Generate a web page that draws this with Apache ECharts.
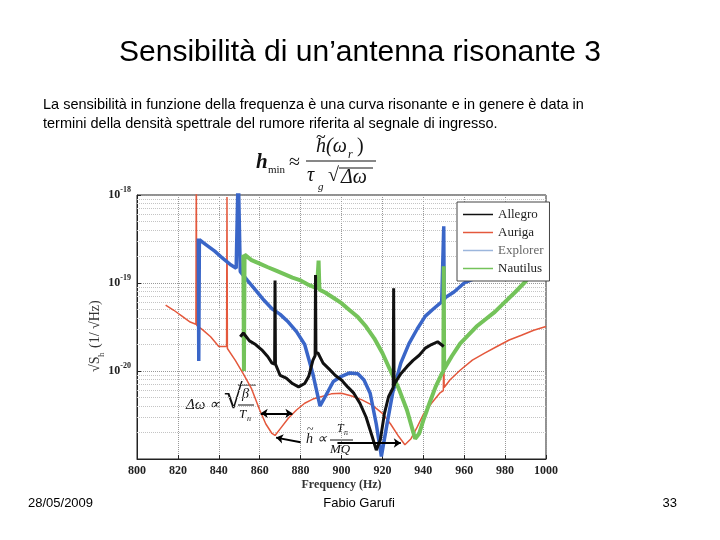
<!DOCTYPE html>
<html><head><meta charset="utf-8">
<script src="https://cdn.jsdelivr.net/npm/echarts@6/dist/echarts.min.js"></script>
<style>html,body{margin:0;padding:0;background:#fff;}#c{width:720px;height:540px;}</style>
</head><body><div id="c"></div>
<script>
// ---- data ----
const xTicks = [800,820,840,860,880,900,920,940,960,980,1000];
const yMinorTicks = [2e-21,3e-21,4e-21,5e-21,6e-21,7e-21,8e-21,9e-21,2e-20,3e-20,4e-20,5e-20,6e-20,7e-20,8e-20,9e-20,2e-19,3e-19,4e-19,5e-19,6e-19,7e-19,8e-19,9e-19];

const allegroF = [850.5,852,855,858,861,864,866,867.3,867.5,867.7,868.5,870,873,876,879,882,884,886,887.1,887.3,887.5,888.5,891,894,897,900,903,906,909,912,915,917,919,921,923,925.3,925.5,925.7,926,929,932,935,938,941,944,947,950];
const allegroV = [2.45e-20,2.7e-20,2.2e-20,2e-20,1.74e-20,1.45e-20,1.23e-20,1.2e-20,1.07e-19,1.2e-20,1.2e-20,8.9e-21,8.3e-21,7.2e-21,6.6e-21,7.2e-21,8.7e-21,1.32e-20,1.5e-20,1.23e-19,1.6e-20,1.6e-20,1.23e-20,1.05e-20,8.9e-21,7.9e-21,6.6e-21,5.6e-21,4.3e-21,3e-21,1.8e-21,1.26e-21,1.66e-21,3.3e-21,5.1e-21,6.5e-21,8.7e-20,6.8e-21,7.2e-21,9.3e-21,1.12e-20,1.32e-20,1.51e-20,1.82e-20,2e-20,2.15e-20,1.9e-20];

const aurigaF = [814,818,822,826,828.8,829,829.2,832,836,840,843.8,844,844.2,848,852,856,860,863,866,867.5,870,874,878,882,886,890,895,900,905,910,915,920,924,928,931,934,937,940,944,948,949.8,950,950.2,953,958,964,970,976,982,988,994,1000];
const aurigaV = [5.6e-20,4.9e-20,4.2e-20,3.6e-20,3.4e-20,2e-18,3.3e-20,2.95e-20,2.45e-20,1.9e-20,1.9e-20,9.5e-19,1.8e-20,1.33e-20,9.3e-21,6.3e-21,3.6e-21,2.5e-21,1.95e-21,1.85e-21,2.2e-21,2.9e-21,3.6e-21,4.3e-21,4.8e-21,5.1e-21,5.5e-21,5.6e-21,5.2e-21,4.7e-21,4.1e-21,3.3e-21,2.5e-21,1.8e-21,1.45e-21,1.7e-21,2.3e-21,3.2e-21,4.3e-21,5.6e-21,6e-21,1.9e-20,6.5e-21,7.9e-21,1.02e-20,1.33e-20,1.6e-20,1.9e-20,2.25e-20,2.55e-20,2.9e-20,3.2e-20];

const explorerF = [830,830.2,830.5,834,838,842,846,848.5,849.5,850.5,854,858,862,866,870,874,878,882,886,889.5,892,896,900,904,908,911,914,917,919.5,922,925,929,933,937,941,945,949,949.8,950,950.2,951,955,960,965,970,980,990,1000];
const explorerV = [3.2e-19,1.3e-20,3.1e-19,2.7e-19,2.3e-19,1.9e-19,1.6e-19,1.47e-19,2e-18,1.35e-19,1.07e-19,8.3e-20,6.4e-20,5.1e-20,4.4e-20,3.6e-20,2.8e-20,2e-20,9.3e-21,4e-21,5.1e-21,7.6e-21,8.7e-21,9.5e-21,9.3e-21,7.9e-21,5.6e-21,2.5e-21,1.07e-21,2.3e-21,5.6e-21,1.23e-20,2.05e-20,3e-20,4.2e-20,5.1e-20,6.1e-20,6.3e-20,4.4e-19,6.5e-20,6.9e-20,7.9e-20,1e-19,1.12e-19,1.23e-19,1.5e-19,1.8e-19,2.1e-19];

const nautilusF = [852,852.3,852.6,856,860,864,868,872,876,880,884,888,888.8,889.2,892,896,900,904,908,912,916,920,924,928,932,936,938,940,943,946,949,949.8,950,950.2,951,954,958,962,966,970,975,980,985,990,995,1000];
const nautilusV = [2.1e-19,1e-20,2.1e-19,1.82e-19,1.66e-19,1.51e-19,1.38e-19,1.26e-19,1.15e-19,1.07e-19,9.5e-20,8.7e-20,1.8e-19,8.4e-20,7.8e-20,6.8e-20,5.9e-20,4.9e-20,4.1e-20,3.2e-20,2.35e-20,1.6e-20,1e-20,6.3e-21,3.6e-21,1.7e-21,1.95e-21,2.75e-21,4.3e-21,6.6e-21,9.3e-21,1e-20,1.55e-19,1.05e-20,1.1e-20,1.48e-20,2.05e-20,2.55e-20,3.2e-20,3.8e-20,4.7e-20,6.1e-20,7.9e-20,1.04e-19,1.47e-19,2.6e-19];

const seriesNames = ['Allegro','Auriga','Explorer','Nautilus'];
const seriesColors = ['#111111','#e4583c','#3a66c8','#74c35a'];

function zip(f, v){ return f.map((x,i)=>[x, v[i]]); }

const chart = echarts.init(document.getElementById('c'), null, {renderer:'canvas'});
const serif = 'Liberation Serif';

function lineSeries(name, f, v, color, width, extra){
  return Object.assign({name, type:'line', data: zip(f,v), showSymbol:false, symbol:'none', clip:true,
    lineStyle:{color, width}, itemStyle:{color}, z:3, animation:false, emphasis:{disabled:true}}, extra||{});
}

const option = {
  animation:false,
  grid:{left:137, right:174, top:195, bottom:81, containLabel:false, outerBoundsMode:'none', show:true, borderColor:'#222', borderWidth:1, backgroundColor:'#fff'},
  xAxis:{type:'value', min:800, max:1000, interval:20,
    name:'Frequency (Hz)', nameLocation:'middle', nameGap:20,
    nameTextStyle:{fontFamily:serif, fontSize:12, fontWeight:'bold', color:'#333'},
    axisLine:{show:true, lineStyle:{color:'#222'}}, axisTick:{inside:true, length:4, lineStyle:{color:'#222'}},
    axisLabel:{fontFamily:serif, fontSize:12, fontWeight:'bold', color:'#222', margin:6, formatter: v => String(v)},
    splitLine:{show:true, lineStyle:{type:'dotted', color:'#999'}}},
  yAxis:{type:'log', logBase:10, min:1e-21, max:1e-18,
    axisLine:{show:true, lineStyle:{color:'#222'}}, axisTick:{inside:true, length:4, lineStyle:{color:'#222'}},
    axisLabel:{fontFamily:serif, fontSize:12, fontWeight:'bold', color:'#222', margin:6,
      formatter: v => '10{e|' + Math.round(Math.log10(v)) + '}',
      rich:{e:{fontFamily:serif, fontSize:8, fontWeight:'bold', color:'#222', padding:[0,0,10,0]}}},
    splitLine:{show:true, lineStyle:{type:'dotted', color:'#999'}}},
  legend:{orient:'vertical', left:457, top:202, padding:[6,6,6,6], z:10,
    backgroundColor:'#fff', borderColor:'#444', borderWidth:1, itemGap:5,
    icon:'rect', itemWidth:30, itemHeight:1.5,
    textStyle:{fontFamily:serif, fontSize:13, color:'#222'},
    data:[{name:'Allegro'},{name:'Auriga'},{name:'Explorer', itemStyle:{color:'#9cb6dc'}, textStyle:{color:'#666'}},{name:'Nautilus'}]},
  series:[
    lineSeries('Auriga', aurigaF, aurigaV, seriesColors[1], 1.5, {
      markLine:{silent:true, z:1, symbol:['none','none'], label:{show:false}, animation:false,
        lineStyle:{type:'dotted', color:'#c4c4c4', width:1},
        data: yMinorTicks.map(y=>[{coord:[800,y]},{coord:[1000,y]}])}}),
    lineSeries('Explorer', explorerF, explorerV, seriesColors[2], 3.5),
    lineSeries('Nautilus', nautilusF, nautilusV, seriesColors[3], 4),
    lineSeries('Allegro', allegroF, allegroV, seriesColors[0], 3, {
      markLine:{silent:true, z:6, animation:false, symbol:['arrow','arrow'], symbolSize:7, label:{show:false},
        lineStyle:{type:'solid', color:'#000', width:2},
        data:[
          [{coord:[860.5,3.3e-21]},{coord:[876,3.3e-21]}],
          [{coord:[880,1.55e-21], symbol:'none'},{coord:[868,1.75e-21]}],
          [{coord:[898,1.52e-21], symbol:'none'},{coord:[929,1.52e-21]}]
        ]}})
  ],
  graphic:[
    {type:'text', left:'center', top:38, style:{text:'Sensibilità di un’antenna risonante 3', font:'30px "Liberation Sans"', fill:'#000'}},
    {type:'text', left:43, top:95, style:{text:'La sensibilità in funzione della frequenza è una curva risonante e in genere è data in\ntermini della densità spettrale del rumore riferita al segnale di ingresso.', font:'14.5px "Liberation Sans"', fill:'#000', lineHeight:19}},
    // y-axis title
    {type:'text', x:88, y:372, rotation:Math.PI/2, style:{text:'√S', font:'14px "Liberation Serif"', fill:'#333'}},
    {type:'text', x:97, y:357, rotation:Math.PI/2, style:{text:'h', font:'9px "Liberation Serif"', fill:'#333'}},
    {type:'text', x:88, y:348, rotation:Math.PI/2, style:{text:'(1/ √Hz)', font:'14px "Liberation Serif"', fill:'#333'}},
    // formula h_min
    {type:'text', x:256, y:152, style:{text:'h', font:'italic bold 21px "Liberation Serif"', fill:'#111'}},
    {type:'text', x:268, y:165, style:{text:'min', font:'11px "Liberation Serif"', fill:'#111'}},
    {type:'text', x:289, y:153, style:{text:'≈', font:'20px "Liberation Serif"', fill:'#111'}},
    {type:'text', x:316, y:137, style:{text:'h(ω', font:'italic 20px "Liberation Serif"', fill:'#111'}},
    {type:'text', x:316, y:129, style:{text:'~', font:'18px "Liberation Serif"', fill:'#111'}},
    {type:'text', x:348, y:149, style:{text:'r', font:'italic 12px "Liberation Serif"', fill:'#111'}},
    {type:'text', x:357, y:137, style:{text:')', font:'20px "Liberation Serif"', fill:'#111'}},
    {type:'line', shape:{x1:306, y1:161, x2:376, y2:161}, style:{stroke:'#111', lineWidth:1.2}},
    {type:'text', x:307, y:166, style:{text:'τ', font:'italic 20px "Liberation Serif"', fill:'#111'}},
    {type:'text', x:318, y:182, style:{text:'g', font:'italic 11px "Liberation Serif"', fill:'#111'}},
    {type:'text', x:328, y:166, style:{text:'√', font:'20px "Liberation Serif"', fill:'#111'}},
    {type:'line', shape:{x1:339, y1:168, x2:373, y2:168}, style:{stroke:'#111', lineWidth:1}},
    {type:'text', x:341, y:168, style:{text:'Δω', font:'italic 20px "Liberation Serif"', fill:'#111'}},
    // Δω annotation
    {type:'text', x:186, y:398, style:{text:'Δω ∝', font:'italic 15px "Liberation Serif"', fill:'#111'}},
    {type:'text', x:224, y:382, style:{text:'√', font:'34px "Liberation Serif"', fill:'#111'}},
    {type:'line', shape:{x1:238, y1:385, x2:256, y2:385}, style:{stroke:'#111', lineWidth:1}},
    {type:'text', x:242, y:387, style:{text:'β', font:'italic 14px "Liberation Serif"', fill:'#111'}},
    {type:'line', shape:{x1:238, y1:405, x2:254, y2:405}, style:{stroke:'#111', lineWidth:1}},
    {type:'text', x:239, y:408, style:{text:'T', font:'italic 13px "Liberation Serif"', fill:'#111'}},
    {type:'text', x:247, y:415, style:{text:'n', font:'italic 8px "Liberation Serif"', fill:'#111'}},
    // h~ annotation
    {type:'text', x:306, y:432, style:{text:'h ∝', font:'italic 14px "Liberation Serif"', fill:'#111'}},
    {type:'text', x:307, y:424, style:{text:'~', font:'12px "Liberation Serif"', fill:'#111'}},
    {type:'text', x:337, y:423, style:{text:'T', font:'italic 12px "Liberation Serif"', fill:'#111'}},
    {type:'text', x:344, y:429, style:{text:'n', font:'italic 8px "Liberation Serif"', fill:'#111'}},
    {type:'line', shape:{x1:330, y1:440, x2:353, y2:440}, style:{stroke:'#111', lineWidth:1}},
    {type:'text', x:330, y:443, style:{text:'MQ', font:'italic 13px "Liberation Serif"', fill:'#111'}},
    // footer
    {type:'text', x:28, y:497, style:{text:'28/05/2009', font:'13px "Liberation Sans"', fill:'#000'}},
    {type:'text', x:359, y:497, style:{text:'Fabio Garufi', font:'13px "Liberation Sans"', fill:'#000', align:'center'}},
    {type:'text', x:677, y:497, style:{text:'33', font:'13px "Liberation Sans"', fill:'#000', align:'right'}}
  ]
};
chart.setOption(option);
</script></body></html>
